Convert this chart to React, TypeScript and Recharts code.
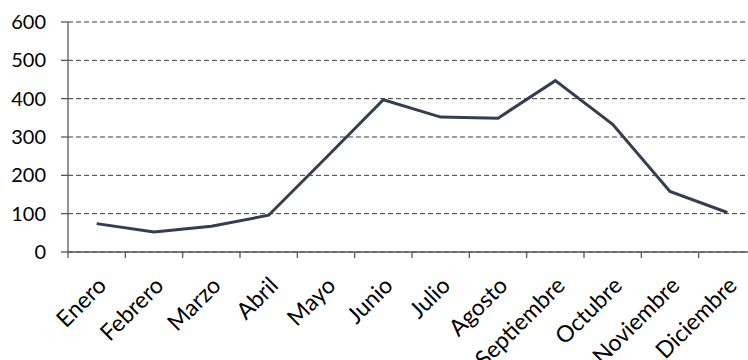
import React from "react";
import { LineChart, Line, XAxis, YAxis, CartesianGrid } from "recharts";

const months = [
  "Enero", "Febrero", "Marzo", "Abril", "Mayo", "Junio",
  "Julio", "Agosto", "Septiembre", "Octubre", "Noviembre", "Diciembre",
];
const values = [74, 52, 67, 96, 246, 397, 352, 349, 447, 333, 158, 103];
const yTicks = [0, 100, 200, 300, 400, 500, 600];

const data = months.map((month, i) => ({ month, value: values[i] }));

const FONT = "Lato, 'Open Sans', sans-serif";
const TEXT = "#000000";
const AXIS = "#595959";
const TICK_LEN = 6;

// Month label at the band centre, with tick marks on the band edges.
const MonthTick = (props: any) => {
  const { x, y, payload, index, visibleTicksCount } = props;
  const half = payload && typeof payload.offset === "number" ? payload.offset : 0;
  const ax = x + 11;
  const ay = y + 35;
  const isLast = index === (visibleTicksCount ?? months.length) - 1;
  return (
    <g>
      <line x1={x - half} y1={y} x2={x - half} y2={y + TICK_LEN} stroke={AXIS} strokeWidth={1.3} />
      {isLast && (
        <line x1={x + half} y1={y} x2={x + half} y2={y + TICK_LEN} stroke={AXIS} strokeWidth={1.3} />
      )}
      <text
        x={ax}
        y={ay}
        textAnchor="end"
        fill={TEXT}
        fontSize={23}
        fontFamily={FONT}
        transform={`rotate(-45, ${ax}, ${ay})`}
      >
        {payload.value}
      </text>
    </g>
  );
};

export default function App() {
  return (
    <div
      style={{
        position: "absolute",
        left: 0,
        top: 0,
        width: 748,
        height: 360,
        overflow: "hidden",
        background: "#ffffff",
      }}
    >
      <LineChart
        width={756}
        height={360}
        data={data}
        margin={{ top: 22, right: 0, bottom: 0, left: 0 }}
      >
        <CartesianGrid
          horizontal
          vertical={false}
          stroke="#3a3a3a"
          strokeDasharray="5 3"
        />
        <XAxis
          dataKey="month"
          scale="band"
          height={108}
          interval={0}
          tickSize={0}
          tickMargin={0}
          tickLine={false}
          axisLine={{ stroke: AXIS, strokeWidth: 1.3 }}
          tick={<MonthTick />}
        />
        <YAxis
          domain={[0, 600]}
          ticks={yTicks}
          width={68}
          tickSize={7}
          tickMargin={15}
          interval={0}
          tick={{ fill: TEXT, fontSize: 20, fontFamily: FONT }}
          tickLine={{ stroke: AXIS, strokeWidth: 1.3 }}
          axisLine={{ stroke: AXIS, strokeWidth: 1.3 }}
        />
        <Line
          type="linear"
          dataKey="value"
          stroke="#333f50"
          strokeWidth={3}
          dot={false}
          activeDot={false}
          isAnimationActive={false}
        />
      </LineChart>
    </div>
  );
}
